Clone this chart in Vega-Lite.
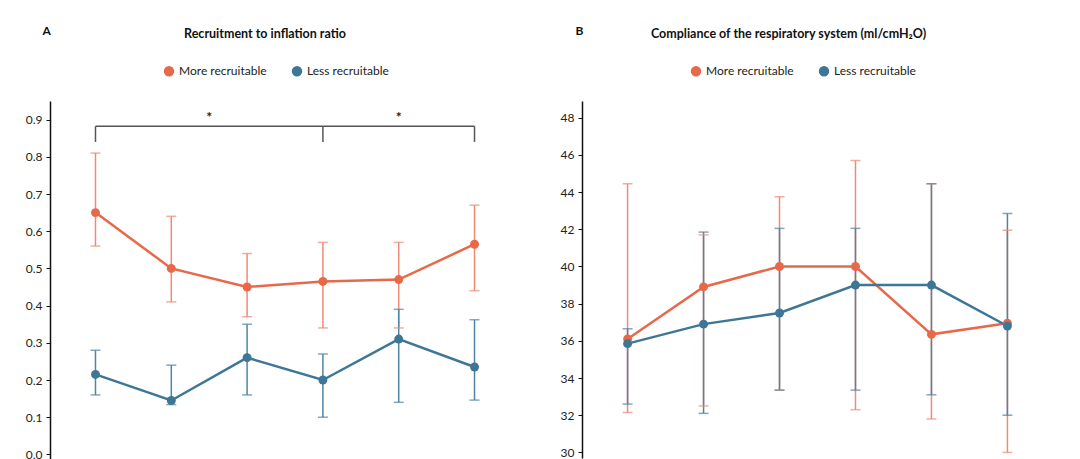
{
  "$schema": "https://vega.github.io/schema/vega-lite/v6.json",
  "padding": {"left": 25, "top": 24, "right": 5, "bottom": 0},
  "spacing": 40,
  "datasets": {
    "ri": [
      {"group": "More recruitable", "t": 1, "mean": 0.65, "lo": 0.56, "hi": 0.81},
      {"group": "More recruitable", "t": 2, "mean": 0.50, "lo": 0.41, "hi": 0.64},
      {"group": "More recruitable", "t": 3, "mean": 0.45, "lo": 0.37, "hi": 0.54},
      {"group": "More recruitable", "t": 4, "mean": 0.465, "lo": 0.34, "hi": 0.57},
      {"group": "More recruitable", "t": 5, "mean": 0.47, "lo": 0.34, "hi": 0.57},
      {"group": "More recruitable", "t": 6, "mean": 0.565, "lo": 0.44, "hi": 0.67},
      {"group": "Less recruitable", "t": 1, "mean": 0.215, "lo": 0.16, "hi": 0.28},
      {"group": "Less recruitable", "t": 2, "mean": 0.145, "lo": 0.134, "hi": 0.24},
      {"group": "Less recruitable", "t": 3, "mean": 0.26, "lo": 0.16, "hi": 0.35},
      {"group": "Less recruitable", "t": 4, "mean": 0.20, "lo": 0.10, "hi": 0.27},
      {"group": "Less recruitable", "t": 5, "mean": 0.31, "lo": 0.14, "hi": 0.39},
      {"group": "Less recruitable", "t": 6, "mean": 0.235, "lo": 0.146, "hi": 0.362}
    ],
    "crs": [
      {"group": "More recruitable", "t": 1, "mean": 36.1, "lo": 32.15, "hi": 44.45},
      {"group": "More recruitable", "t": 2, "mean": 38.9, "lo": 32.5, "hi": 41.7},
      {"group": "More recruitable", "t": 3, "mean": 40.0, "lo": 33.35, "hi": 43.75},
      {"group": "More recruitable", "t": 4, "mean": 40.0, "lo": 32.3, "hi": 45.7},
      {"group": "More recruitable", "t": 5, "mean": 36.35, "lo": 31.8, "hi": 44.45},
      {"group": "More recruitable", "t": 6, "mean": 36.95, "lo": 30.0, "hi": 41.95},
      {"group": "Less recruitable", "t": 1, "mean": 35.85, "lo": 32.6, "hi": 36.65},
      {"group": "Less recruitable", "t": 2, "mean": 36.9, "lo": 32.1, "hi": 41.85},
      {"group": "Less recruitable", "t": 3, "mean": 37.5, "lo": 33.35, "hi": 42.05},
      {"group": "Less recruitable", "t": 4, "mean": 39.0, "lo": 33.35, "hi": 42.05},
      {"group": "Less recruitable", "t": 5, "mean": 39.0, "lo": 33.1, "hi": 44.45},
      {"group": "Less recruitable", "t": 6, "mean": 36.8, "lo": 32.0, "hi": 42.85}
    ],
    "bracket": [
      {"part": "bar", "t": 1, "t2": 6, "y": 0.882, "y2": 0.882},
      {"part": "end", "t": 1, "t2": 1, "y": 0.84, "y2": 0.882},
      {"part": "mid", "t": 4, "t2": 4, "y": 0.84, "y2": 0.882},
      {"part": "end", "t": 6, "t2": 6, "y": 0.84, "y2": 0.882}
    ],
    "stars": [
      {"t": 2.5, "y": 0.905, "label": "*"},
      {"t": 5, "y": 0.905, "label": "*"}
    ]
  },
  "hconcat": [
    {
      "width": 470,
      "height": 359,
      "title": {"text": "Recruitment to inflation ratio", "dx": -20},
      "resolve": {"scale": {"color": "independent"}},
      "layer": [
        {
          "data": {"name": "ri"},
          "mark": {"type": "rule", "strokeWidth": 1.5},
          "encoding": {
            "x": {"field": "t", "type": "quantitative", "scale": {"domain": [0.4, 6.6], "nice": false}, "axis": null},
            "xOffset": {"field": "group", "type": "nominal", "scale": {"domain": ["More recruitable", "Less recruitable"], "range": [-2.5, 2.5]}},
            "y": {"field": "lo", "type": "quantitative", "scale": {"domain": [-0.015, 0.95], "nice": false},
              "axis": {"values": [0, 0.1, 0.2, 0.3, 0.4, 0.5, 0.6, 0.7, 0.8, 0.9], "tickCount": 20, "format": ".1f", "title": "A", "titleX": -8, "titleY": -71}},
            "y2": {"field": "hi"},
            "color": {"field": "group", "type": "nominal", "legend": null,
              "scale": {"domain": ["More recruitable", "Less recruitable"], "range": ["#EE8B76", "#4F84A3"]}}
          }
        },
        {
          "data": {"name": "ri"},
          "transform": [{"fold": ["lo", "hi"], "as": ["end", "value"]}],
          "mark": {"type": "tick", "orient": "horizontal", "size": 10, "thickness": 1.5},
          "encoding": {
            "x": {"field": "t", "type": "quantitative"},
            "xOffset": {"field": "group", "type": "nominal"},
            "y": {"field": "value", "type": "quantitative"},
            "color": {"field": "group", "type": "nominal", "legend": null,
              "scale": {"domain": ["More recruitable", "Less recruitable"], "range": ["#EE8B76", "#4F84A3"]}}
          }
        },
        {
          "data": {"name": "ri"},
          "mark": {"type": "line", "strokeWidth": 2.5, "point": {"filled": true, "size": 80}},
          "encoding": {
            "x": {"field": "t", "type": "quantitative"},
            "xOffset": {"field": "group", "type": "nominal"},
            "y": {"field": "mean", "type": "quantitative"},
            "color": {"field": "group", "type": "nominal",
              "scale": {"domain": ["More recruitable", "Less recruitable"], "range": ["#E8694A", "#3E7796"]},
              "legend": {"orient": "none", "legendX": 113, "legendY": -36, "direction": "horizontal"}}
          }
        },
        {
          "data": {"name": "bracket"},
          "mark": {"type": "rule", "color": "#555555"},
          "encoding": {
            "x": {"field": "t", "type": "quantitative"},
            "x2": {"field": "t2"},
            "y": {"field": "y", "type": "quantitative"},
            "y2": {"field": "y2"},
            "strokeWidth": {"field": "part", "type": "nominal", "scale": {"domain": ["bar", "end", "mid"], "range": [1.5, 1.5, 3]}, "legend": null}
          }
        },
        {
          "data": {"name": "stars"},
          "mark": {"type": "text", "fontSize": 14, "fontWeight": "bold", "color": "#222222"},
          "encoding": {
            "x": {"field": "t", "type": "quantitative"},
            "y": {"field": "y", "type": "quantitative"},
            "text": {"field": "label"}
          }
        }
      ]
    },
    {
      "width": 471,
      "height": 357,
      "title": {"text": "Compliance of the respiratory system (ml/cmH₂O)", "dx": -29},
      "resolve": {"scale": {"color": "independent"}},
      "layer": [
        {
          "data": {"name": "crs"},
          "mark": {"type": "rule", "strokeWidth": 1.5},
          "encoding": {
            "x": {"field": "t", "type": "quantitative", "scale": {"domain": [0.4, 6.6], "nice": false}, "axis": null},
            "xOffset": {"field": "group", "type": "nominal", "scale": {"domain": ["More recruitable", "Less recruitable"], "range": [-2.5, 2.5]}},
            "y": {"field": "lo", "type": "quantitative", "scale": {"domain": [29.7, 48.9], "nice": false},
              "axis": {"values": [30, 32, 34, 36, 38, 40, 42, 44, 46, 48], "tickCount": 20, "title": "B", "titleX": -7, "titleY": -71}},
            "y2": {"field": "hi"},
            "color": {"field": "group", "type": "nominal", "legend": null,
              "scale": {"domain": ["More recruitable", "Less recruitable"], "range": ["#EE8B76", "#4F84A3"]}}
          }
        },
        {
          "data": {"name": "crs"},
          "transform": [{"fold": ["lo", "hi"], "as": ["end", "value"]}],
          "mark": {"type": "tick", "orient": "horizontal", "size": 10, "thickness": 1.5},
          "encoding": {
            "x": {"field": "t", "type": "quantitative"},
            "xOffset": {"field": "group", "type": "nominal"},
            "y": {"field": "value", "type": "quantitative"},
            "color": {"field": "group", "type": "nominal", "legend": null,
              "scale": {"domain": ["More recruitable", "Less recruitable"], "range": ["#EE8B76", "#4F84A3"]}}
          }
        },
        {
          "data": {"name": "crs"},
          "mark": {"type": "line", "strokeWidth": 2.5, "point": {"filled": true, "size": 80}},
          "encoding": {
            "x": {"field": "t", "type": "quantitative"},
            "xOffset": {"field": "group", "type": "nominal"},
            "y": {"field": "mean", "type": "quantitative"},
            "color": {"field": "group", "type": "nominal",
              "scale": {"domain": ["More recruitable", "Less recruitable"], "range": ["#E8694A", "#3E7796"]},
              "legend": {"orient": "none", "legendX": 108, "legendY": -36, "direction": "horizontal"}}
          }
        }
      ]
    }
  ],
  "resolve": {"scale": {"color": "independent"}, "legend": {"color": "independent"}},
  "config": {
    "font": "Lato",
    "view": {"stroke": null},
    "title": {"fontSize": 12.5, "fontWeight": "bold", "color": "#111111", "anchor": "middle", "offset": -16},
    "axis": {
      "grid": false,
      "labelOverlap": false,
      "domainColor": "#111111",
      "domainWidth": 1.5,
      "tickColor": "#111111",
      "tickSize": 4,
      "labelFontSize": 12,
      "labelColor": "#222222",
      "labelPadding": 4,
      "titleAngle": 0,
      "titleAlign": "left",
      "titleBaseline": "middle",
      "titleFontSize": 12,
      "titleFontWeight": "bold",
      "titleColor": "#111111"
    },
    "legend": {
      "title": null,
      "symbolType": "circle",
      "symbolSize": 80,
      "labelFontSize": 12,
      "labelColor": "#222222",
      "columnPadding": 22,
      "symbolOpacity": 1
    }
  }
}
